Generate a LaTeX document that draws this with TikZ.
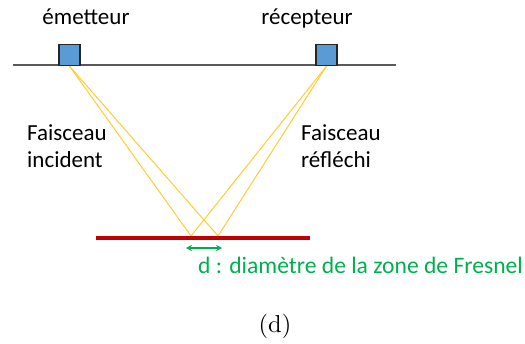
\documentclass[tikz,border=0pt]{standalone}
\usepackage{fontspec}
\newfontfamily\carlitofont{Carlito}
\usetikzlibrary{arrows.meta}
\definecolor{sqblue}{HTML}{5B9BD5}
\definecolor{sqedge}{HTML}{262626}
\definecolor{gline}{HTML}{595959}
\definecolor{beam}{HTML}{FFCC33}
\definecolor{barred}{HTML}{C00000}
\definecolor{fgreen}{HTML}{00B050}
\tikzset{
  lbl/.style={font=\carlitofont\fontsize{23}{27}\selectfont, text=black, inner sep=0pt},
  sq/.style={draw=sqedge, line width=1.2pt, fill=sqblue, minimum size=21pt, inner sep=0pt},
  ray/.style={draw=beam, line width=1pt},
}
\begin{document}
\begin{tikzpicture}[x=1pt,y=-1pt]
\useasboundingbox (0,0) rectangle (525,343);
\coordinate (gl) at (13,65);
\coordinate (gr) at (396,65);
\draw[gline, line width=1.5pt] (gl) -- (gr);
\coordinate (bl) at (96,238);
\coordinate (br) at (310,238);
\coordinate (p1) at (191,236);
\coordinate (p2) at (218,236);
\node[sq] (em) at (69.5,55) {};
\node[sq] (rc) at (326.5,55) {};
\draw[ray] (em.south) -- (p1);
\draw[ray] (em.south) -- (p2);
\draw[ray] (rc.south) -- (p1);
\draw[ray] (rc.south) -- (p2);
\draw[barred, line width=4pt] (bl) -- (br);
\coordinate (al) at (186,248);
\coordinate (ar) at (222,248);
\draw[fgreen, line width=1.3pt, {Stealth[length=6pt,width=6pt]}-{Stealth[length=6pt,width=6pt]}] (al) -- (ar);
\node[lbl, anchor=base] (temit) at (86,24) {émetteur};
\node[lbl, anchor=base] (trec) at (307,24) {récepteur};
\node[lbl, anchor=base west] (tinc) at (27,140) {Faisceau};
\node[lbl, anchor=base west] (tinc2) at (27,167) {incident};
\node[lbl, anchor=base west] (tref) at (301,140) {Faisceau};
\node[lbl, anchor=base west] (tref2) at (301,167) {réfléchi};
\node[lbl, anchor=base west, text=fgreen, font=\carlitofont\fontsize{23.6}{28}\selectfont] (td) at (198,273) {d : diamètre de la zone de Fresnel};
\node[anchor=base, inner sep=0pt, scale=2.45] (cap) at (275,332) {(d)};
\end{tikzpicture}
\end{document}
